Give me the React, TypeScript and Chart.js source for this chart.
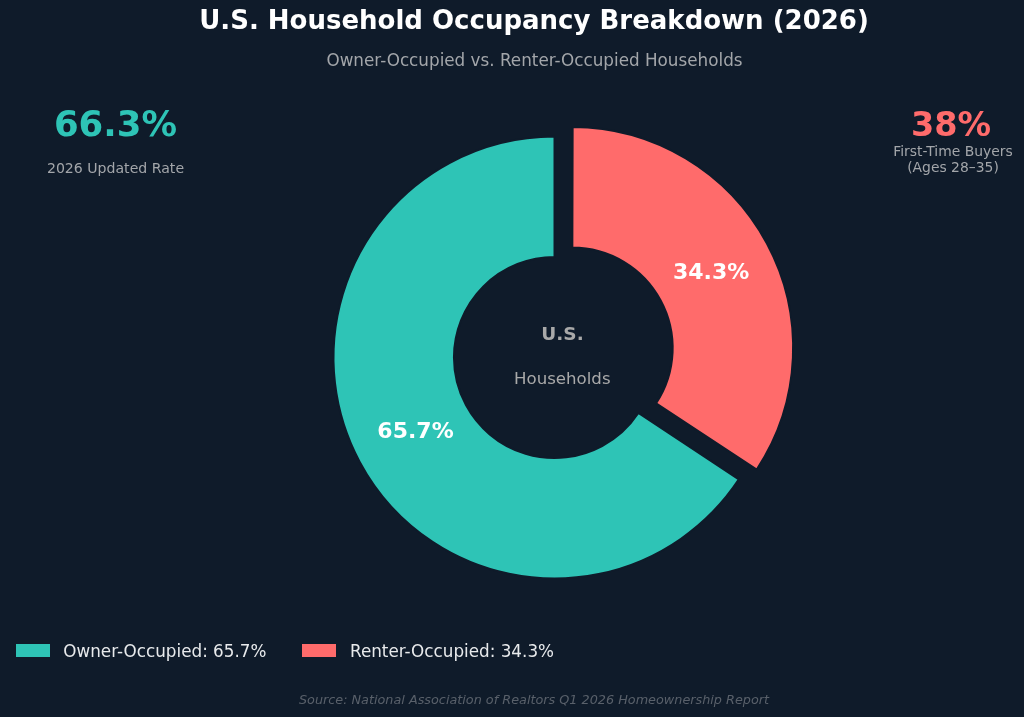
import React, { useEffect, useRef } from "react";
import { Chart, registerables } from "chart.js";

Chart.register(...registerables);

// Household split (percent of occupied housing units)
const categories = ["Owner-Occupied", "Renter-Occupied"];
const shares = [65.7, 34.3];
const sliceColors = ["#2ec4b6", "#ff6b6b"];
// Renter slice is pulled out of the ring
const sliceOffsets = [0, 80];

// Headline figures
const rateValue = "66.3%";
const rateCaption = "2026 Updated Rate";
const buyersValue = "38%";
const buyersCaption = ["First-Time Buyers", "(Ages 28–35)"];

const BG = "#0f1b2a";
const FONT = "'DejaVu Sans', 'Noto Sans', sans-serif";

type TextProps = {
  x: number;
  baseline: number;
  size: number;
  color: string;
  weight?: string | number;
  italic?: boolean;
  align?: "center" | "left";
  children: React.ReactNode;
};

// Places a line of text so that its alphabetic baseline lands on `baseline`
function Label({ x, baseline, size, color, weight = "normal", italic = false, align = "center", children }: TextProps) {
  const top = baseline - 0.846 * size;
  const style: React.CSSProperties = {
    position: "absolute",
    top,
    fontFamily: FONT,
    fontSize: size,
    lineHeight: `${size}px`,
    fontWeight: weight as any,
    fontStyle: italic ? "italic" : "normal",
    color,
    whiteSpace: "nowrap",
  };
  if (align === "center") {
    style.left = x - 400;
    style.width = 800;
    style.textAlign = "center";
  } else {
    style.left = x;
  }
  return <div style={style}>{children}</div>;
}

// Chart.js grows an offset arc's radii a little while pushing it out;
// keep the exploded slice the same thickness as the rest of the ring,
// then write the percentage on each slice.
const sliceLabelPlugin = {
  id: "sliceLabels",
  beforeDatasetsDraw(chart: any) {
    const meta = chart.getDatasetMeta(0);
    meta.data.forEach((arc: any) => {
      const push = (arc.options.offset || 0) / 4;
      const fix = 1 - Math.sin(Math.min(Math.PI, arc.circumference || 0));
      const grow = push * fix;
      arc.$savedRadii = [arc.innerRadius, arc.outerRadius];
      arc.innerRadius -= grow;
      arc.outerRadius -= grow;
    });
  },
  afterDatasetsDraw(chart: any) {
    const meta = chart.getDatasetMeta(0);
    const ctx = chart.ctx as CanvasRenderingContext2D;
    ctx.save();
    ctx.font = `bold 22px ${FONT}`;
    ctx.fillStyle = "#ffffff";
    ctx.textAlign = "center";
    ctx.textBaseline = "middle";
    meta.data.forEach((arc: any, i: number) => {
      if (arc.$savedRadii) {
        arc.innerRadius = arc.$savedRadii[0];
        arc.outerRadius = arc.$savedRadii[1];
      }
      const { x, y, startAngle, endAngle, innerRadius, outerRadius } = arc;
      const shift = (arc.options.offset || 0) / 4;
      const mid = (startAngle + endAngle) / 2;
      const r = (innerRadius + outerRadius) / 2 - 3 + shift;
      ctx.fillText(`${shares[i].toFixed(1)}%`, x + Math.cos(mid) * r, y + Math.sin(mid) * r);
    });
    ctx.restore();
  },
};

function DonutChart() {
  const canvasRef = useRef<HTMLCanvasElement | null>(null);

  useEffect(() => {
    if (!canvasRef.current) return;
    const total = shares.reduce((a, b) => a + b, 0);
    // Start the owner slice where the renter slice ends, so renter sits at 12 o'clock
    const rotation = (shares[1] / total) * 360;
    const chart = new Chart(canvasRef.current, {
      type: "doughnut",
      data: {
        labels: categories,
        datasets: [
          {
            data: shares,
            backgroundColor: sliceColors,
            borderColor: BG,
            borderWidth: 2,
            offset: sliceOffsets,
            hoverOffset: 0,
          },
        ],
      },
      options: {
        responsive: false,
        maintainAspectRatio: false,
        animation: false,
        rotation,
        radius: 221,
        cutout: "45.5%",
        layout: { padding: { left: 85, right: 0, top: 0, bottom: 2 } },
        plugins: {
          legend: { display: false },
          tooltip: { enabled: false },
          title: { display: false },
        },
        events: [],
      },
      plugins: [sliceLabelPlugin],
    });
    return () => chart.destroy();
  }, []);

  return (
    <canvas
      ref={canvasRef}
      width={1024}
      height={717}
      style={{ position: "absolute", left: 0, top: 0, width: 1024, height: 717 }}
    />
  );
}

export default function App() {
  const legendItems = [
    { box: 16, text: 63.3 },
    { box: 301.7, text: 350 },
  ];
  return (
    <div
      style={{
        position: "absolute",
        left: 0,
        top: 0,
        width: 1024,
        height: 717,
        background: BG,
        overflow: "hidden",
      }}
    >
      <DonutChart />

      <Label x={534} baseline={29} size={26} weight="bold" color="#ffffff">
        U.S. Household Occupancy Breakdown (2026)
      </Label>
      <Label x={534.5} baseline={66.7} size={16.8} color="#a3a6aa">
        Owner-Occupied vs. Renter-Occupied Households
      </Label>

      <Label x={115.5} baseline={136} size={35.5} weight="bold" color={sliceColors[0]}>
        {rateValue}
      </Label>
      <Label x={115.5} baseline={173.3} size={14.1} color="#a3a6aa">
        {rateCaption}
      </Label>

      <Label x={951} baseline={136} size={33.5} weight="bold" color={sliceColors[1]}>
        {buyersValue}
      </Label>
      <Label x={953} baseline={156.7} size={13.9} color="#a3a6aa">
        {buyersCaption[0]}
      </Label>
      <Label x={953} baseline={172.3} size={13.9} color="#a3a6aa">
        {buyersCaption[1]}
      </Label>

      <Label x={562.5} baseline={340.7} size={18.5} weight="bold" color="#a9a9a9">
        U.S.
      </Label>
      <Label x={562.3} baseline={385} size={16.6} color="#a9a9a9">
        Households
      </Label>

      {categories.map((name, i) => (
        <React.Fragment key={name}>
          <div
            style={{
              position: "absolute",
              left: legendItems[i].box,
              top: 644.3,
              width: 34,
              height: 12.4,
              background: sliceColors[i],
            }}
          />
          <Label x={legendItems[i].text} baseline={657.3} size={16.8} color="#e8eaec" align="left">
            {`${name}: ${shares[i].toFixed(1)}%`}
          </Label>
        </React.Fragment>
      ))}

      <Label x={534} baseline={705} size={12.8} italic color="#59606a">
        Source: National Association of Realtors Q1 2026 Homeownership Report
      </Label>
    </div>
  );
}
